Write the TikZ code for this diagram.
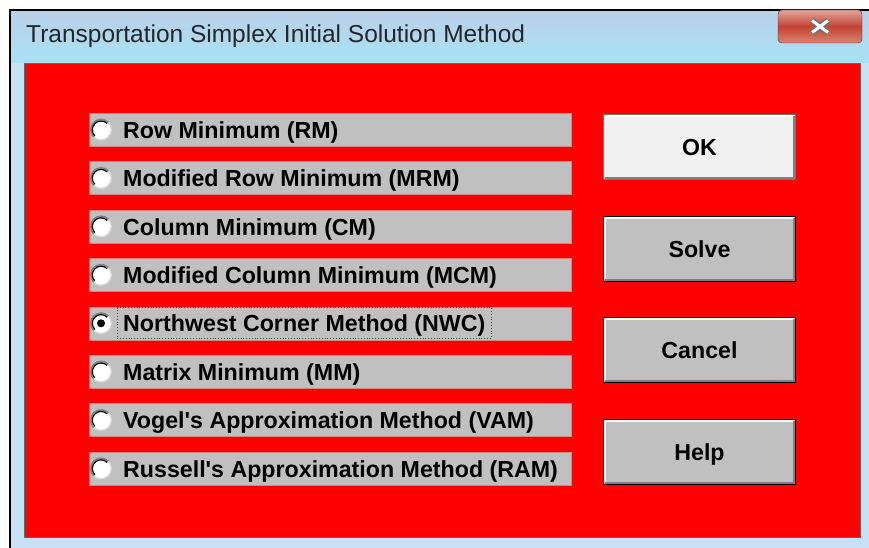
\documentclass[tikz,border=0pt]{standalone}
\usepackage{fontspec}
\setmainfont{Liberation Sans}
\definecolor{winGray}{RGB}{192,192,192}
\definecolor{winShadow}{RGB}{128,128,128}
\definecolor{winFrame}{RGB}{200,224,244}
\definecolor{titleTop}{RGB}{186,208,232}
\definecolor{titleBot}{RGB}{168,226,246}
\definecolor{closeTop}{RGB}{224,166,154}
\definecolor{closeMid}{RGB}{196,66,50}
\definecolor{closeBot}{RGB}{216,134,112}
\newcommand{\dlgfont}{\fontsize{23.2}{26}\selectfont\bfseries}

\tikzset{
  rowbar/.style={fill=winGray, draw=winGray!70!red, minimum width=482pt, minimum height=33pt,
    anchor=north west, inner sep=0pt},
  rowlabel/.style={font=\dlgfont, anchor=west, inner sep=0pt, text height=17pt, text depth=0pt},
  btn/.style={fill=winGray, draw=black, line width=1pt, minimum width=192pt, minimum height=65pt,
    anchor=north west, inner sep=0pt, font=\dlgfont, text height=17pt, text depth=0pt},
  closebtn/.style={top color=closeTop, bottom color=closeBot, middle color=closeMid,
    draw=closeMid!50!black, rounded corners=4pt, minimum width=84pt, minimum height=33pt},
  focusbox/.style={draw=black!70, dotted, line width=0.8pt},
}

\begin{document}
\begin{tikzpicture}[x=1pt, y=-1pt]
    \useasboundingbox (0,0) rectangle (869,548);

    % Ventana
    \fill[winFrame] (10,10) rectangle (869,548);
    \shade[top color=titleTop, bottom color=titleBot] (10,10) rectangle (869,63);
    \draw[black, line width=2pt] (10,548) -- (10,10) -- (869,10);
    \node[anchor=base west, inner sep=0pt, font=\fontsize{24.5}{28}\selectfont, text=black!85] (title)
        at (26,43) {Transportation Simplex Initial Solution Method};

    % Botón cerrar
    \node[closebtn] (close) at (820,26.5) {};
    \draw[black!55, line width=6pt] ([shift={(-8pt,6pt)}]close.center) -- ([shift={(8pt,-6pt)}]close.center)
        ([shift={(8pt,6pt)}]close.center) -- ([shift={(-8pt,-6pt)}]close.center);
    \draw[white, line width=3pt] ([shift={(-8pt,6pt)}]close.center) -- ([shift={(8pt,-6pt)}]close.center)
        ([shift={(8pt,6pt)}]close.center) -- ([shift={(-8pt,-6pt)}]close.center);

    % Panel
    \node[fill=red, draw=black!60, line width=1pt, anchor=north west, minimum width=836pt,
        minimum height=474pt, inner sep=0pt] (panel) at (24,63) {};

    % Opciones
    \foreach \lbl [count=\i] in {Row Minimum (RM), Modified Row Minimum (MRM), Column Minimum (CM),
        Modified Column Minimum (MCM), Northwest Corner Method (NWC), Matrix Minimum (MM),
        Vogel\textquotesingle s Approximation Method (VAM),
        Russell\textquotesingle s Approximation Method (RAM)} {
        \node[rowbar] (row\i) at (89,{113+48.4*(\i-1)}) {};
        \coordinate (dot\i) at ([xshift=12pt]row\i.west);
        \fill[white] (dot\i) circle[radius=10pt];
        \draw[white!85!black, line width=1.4pt] (dot\i) circle[radius=10.3pt];
        \begin{scope}
            \clip ([shift={(-12pt,-12pt)}]dot\i) -- ([shift={(12pt,12pt)}]dot\i) -- ([shift={(-12pt,12pt)}]dot\i) -- cycle;
            \draw[winShadow, line width=1.6pt] (dot\i) circle[radius=10.3pt];
            \draw[black, line width=1.2pt] (dot\i) circle[radius=8.7pt];
        \end{scope}
        \node[rowlabel] (lbl\i) at ([xshift=34pt]row\i.west) {\lbl};
    }
    \fill[black] (dot5) circle[radius=4pt];
    \draw[focusbox] ([shift={(-6pt,7pt)}]lbl5.north west) rectangle ([shift={(6pt,-6pt)}]lbl5.south east);

    % Botones
    \node[btn, fill=black!6, draw=black!55] (ok) at (603,114) {OK};
    \node[btn] (solve) at (603,216) {Solve};
    \node[btn] (cancel) at (603,317) {Cancel};
    \node[btn] (help) at (603,419) {Help};
    \foreach \b in {ok,solve,cancel,help} {
        \draw[white, line width=2pt] ([shift={(2pt,2.5pt)}]\b.south west) |- ([shift={(-2.5pt,-2pt)}]\b.north east);
        \draw[winShadow, line width=2pt] ([shift={(2pt,2pt)}]\b.south west) -| ([shift={(-2pt,-2pt)}]\b.north east);
    }
\end{tikzpicture}
\end{document}
